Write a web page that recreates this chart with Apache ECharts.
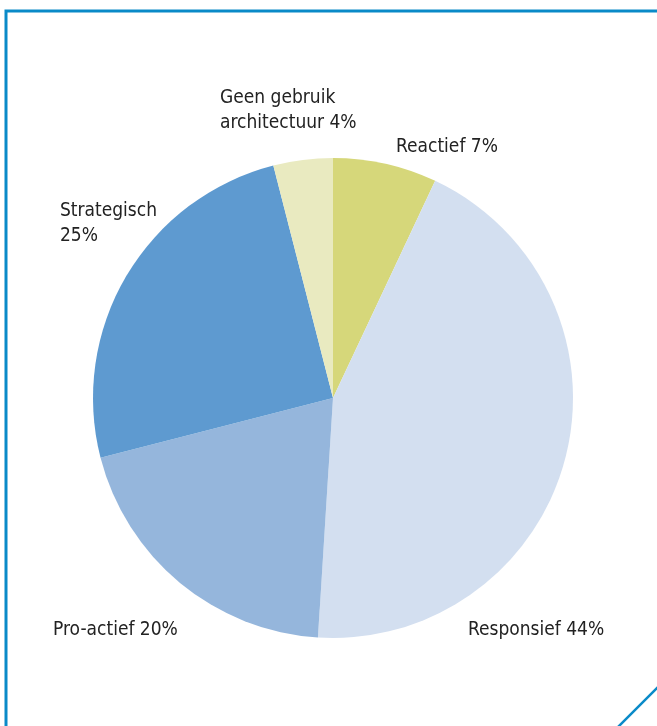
<!DOCTYPE html>
<html>
<head>
<meta charset="utf-8">
<style>html,body{margin:0;padding:0;background:#fff;}#c{width:657px;height:726px;}</style>
<script src="https://cdn.jsdelivr.net/npm/echarts@6/dist/echarts.min.js"></script>
</head>
<body>
<div id="c"></div>
<script>
const categories = ['Reactief', 'Responsief', 'Pro-actief', 'Strategisch', 'Geen gebruik architectuur'];
const values = [7, 44, 20, 25, 4];
const labelTexts = ['Reactief 7%', 'Responsief 44%', 'Pro-actief 20%', 'Strategisch\n25%', 'Geen gebruik\narchitectuur 4%'];
const colors = ['#d6d77a', '#d3dff0', '#95b6dc', '#5e9ad0', '#e9eac0'];
const labelPos = [[396, 147], [468, 630], [53, 630], [60, 224], [220, 111]];

const chart = echarts.init(document.getElementById('c'), null, {renderer: 'canvas'});
const font = "'Liberation Sans Narrow', 'DejaVu Sans Condensed', 'Arial Narrow', sans-serif";
chart.setOption({
  animation: false,
  backgroundColor: '#ffffff',
  graphic: [
    {type: 'polyline', shape: {points: [[6, 730], [6, 11], [665, 11]]}, style: {stroke: '#0a8ac8', lineWidth: 3, fill: null}},
    {type: 'line', shape: {x1: 617, y1: 728, x2: 662, y2: 683}, style: {stroke: '#0a8ac8', lineWidth: 2.5}}
  ],
  series: [{
    type: 'pie',
    center: [333, 398],
    radius: [0, 240],
    startAngle: 90,
    clockwise: true,
    avoidLabelOverlap: false,
    data: categories.map((c, i) => ({name: c, value: values[i], itemStyle: {color: colors[i]}})),
    label: {
      show: true,
      formatter: p => labelTexts[p.dataIndex],
      fontFamily: font,
      fontSize: 19,
      lineHeight: 25,
      color: '#222222',
      align: 'left',
      overflow: 'none',
      width: 300
    },
    labelLine: {show: false},
    labelLayout: p => ({x: labelPos[p.dataIndex][0], y: labelPos[p.dataIndex][1], align: 'left', verticalAlign: 'middle', width: 300}),
    emphasis: {disabled: true}
  }]
});
</script>
</body>
</html>
